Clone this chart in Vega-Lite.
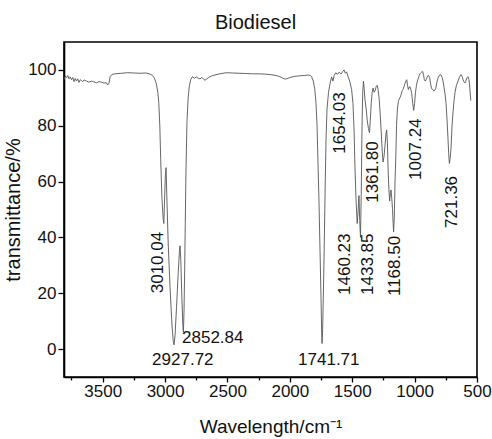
{
  "$schema": "https://vega.github.io/schema/vega-lite/v6.json",
  "width": 413,
  "height": 335,
  "autosize": {"type": "none"},
  "padding": {"left": 64, "top": 42, "right": 15, "bottom": 62},
  "background": "white",
  "config": {
    "font": "Liberation Sans",
    "view": {"stroke": "#000", "strokeWidth": 1.6},
    "axis": {
      "domainColor": "#000", "domainWidth": 1.6, "tickColor": "#000", "tickWidth": 1.3,
      "labelColor": "#111", "titleColor": "#111", "grid": false, "labelOverlap": false,
      "labelFont": "Liberation Sans", "titleFont": "Liberation Sans", "titleFontWeight": "normal"
    }
  },
  "title": {"text": "Biodiesel", "fontSize": 20, "fontWeight": "normal", "font": "Liberation Sans", "color": "#111", "offset": 9, "dx": -15},
  "resolve": {"axis": {"x": "independent"}},
  "datasets": {
    "spectrum": [
      {"w": 3810, "t": 96.5}, {"w": 3800, "t": 97.8}, {"w": 3790, "t": 97.2}, {"w": 3780, "t": 98}, {"w": 3770, "t": 96.8},
      {"w": 3760, "t": 97.5}, {"w": 3750, "t": 96.5}, {"w": 3740, "t": 97.3}, {"w": 3730, "t": 95.8}, {"w": 3720, "t": 97},
      {"w": 3710, "t": 96}, {"w": 3700, "t": 96.8}, {"w": 3690, "t": 95.5}, {"w": 3680, "t": 96.5}, {"w": 3670, "t": 96.2},
      {"w": 3660, "t": 95.8}, {"w": 3650, "t": 96.4}, {"w": 3630, "t": 96}, {"w": 3610, "t": 95.6}, {"w": 3590, "t": 96},
      {"w": 3570, "t": 95.7}, {"w": 3550, "t": 95.4}, {"w": 3530, "t": 95.8}, {"w": 3510, "t": 95.6}, {"w": 3490, "t": 95.3},
      {"w": 3470, "t": 95.4}, {"w": 3460, "t": 94.6}, {"w": 3450, "t": 95.2}, {"w": 3440, "t": 97.6}, {"w": 3425, "t": 98.4},
      {"w": 3400, "t": 98.6}, {"w": 3350, "t": 98.8}, {"w": 3300, "t": 99}, {"w": 3250, "t": 98.9}, {"w": 3200, "t": 98.8},
      {"w": 3150, "t": 98.9}, {"w": 3120, "t": 98.5}, {"w": 3100, "t": 98}, {"w": 3085, "t": 97}, {"w": 3070, "t": 95},
      {"w": 3058, "t": 92}, {"w": 3050, "t": 88}, {"w": 3042, "t": 80}, {"w": 3035, "t": 68}, {"w": 3025, "t": 54},
      {"w": 3015, "t": 46.5}, {"w": 3010, "t": 45}, {"w": 3005, "t": 52}, {"w": 2998, "t": 62}, {"w": 2992, "t": 65},
      {"w": 2986, "t": 55}, {"w": 2975, "t": 38}, {"w": 2960, "t": 22}, {"w": 2945, "t": 9}, {"w": 2935, "t": 3},
      {"w": 2928, "t": 1.5}, {"w": 2920, "t": 5}, {"w": 2908, "t": 15}, {"w": 2895, "t": 27}, {"w": 2885, "t": 35},
      {"w": 2880, "t": 37}, {"w": 2874, "t": 32}, {"w": 2865, "t": 18}, {"w": 2858, "t": 9}, {"w": 2853, "t": 6},
      {"w": 2848, "t": 14}, {"w": 2843, "t": 28}, {"w": 2838, "t": 45}, {"w": 2832, "t": 65}, {"w": 2824, "t": 82},
      {"w": 2815, "t": 90}, {"w": 2806, "t": 94}, {"w": 2795, "t": 96.5}, {"w": 2780, "t": 97.6}, {"w": 2765, "t": 97},
      {"w": 2750, "t": 97.5}, {"w": 2735, "t": 97}, {"w": 2720, "t": 96.8}, {"w": 2705, "t": 97.3}, {"w": 2690, "t": 96.6},
      {"w": 2680, "t": 96.3}, {"w": 2665, "t": 96.8}, {"w": 2650, "t": 97.3}, {"w": 2630, "t": 97.8}, {"w": 2600, "t": 98.2},
      {"w": 2560, "t": 98.6}, {"w": 2510, "t": 99}, {"w": 2460, "t": 98.9}, {"w": 2400, "t": 98.8}, {"w": 2350, "t": 98.7},
      {"w": 2300, "t": 98.6}, {"w": 2250, "t": 98.6}, {"w": 2200, "t": 98.5}, {"w": 2150, "t": 98.3}, {"w": 2110, "t": 98},
      {"w": 2080, "t": 97.6}, {"w": 2055, "t": 97}, {"w": 2035, "t": 96.7}, {"w": 2015, "t": 97}, {"w": 1990, "t": 97.4},
      {"w": 1960, "t": 97.7}, {"w": 1920, "t": 97.9}, {"w": 1880, "t": 98}, {"w": 1850, "t": 98.2}, {"w": 1835, "t": 98},
      {"w": 1825, "t": 97.5}, {"w": 1812, "t": 96}, {"w": 1800, "t": 93}, {"w": 1790, "t": 88}, {"w": 1782, "t": 80},
      {"w": 1775, "t": 68}, {"w": 1766, "t": 52}, {"w": 1758, "t": 35}, {"w": 1750, "t": 18}, {"w": 1745, "t": 6},
      {"w": 1741.7, "t": 2}, {"w": 1737, "t": 7}, {"w": 1732, "t": 18}, {"w": 1725, "t": 35}, {"w": 1718, "t": 55},
      {"w": 1710, "t": 75}, {"w": 1702, "t": 86}, {"w": 1690, "t": 92}, {"w": 1678, "t": 95}, {"w": 1665, "t": 97.5},
      {"w": 1654, "t": 96}, {"w": 1645, "t": 98}, {"w": 1632, "t": 99}, {"w": 1620, "t": 98.4}, {"w": 1605, "t": 99.2},
      {"w": 1590, "t": 98.5}, {"w": 1575, "t": 99.5}, {"w": 1565, "t": 100}, {"w": 1555, "t": 98.8}, {"w": 1545, "t": 99.3},
      {"w": 1535, "t": 97.8}, {"w": 1520, "t": 96}, {"w": 1505, "t": 93}, {"w": 1494, "t": 88}, {"w": 1485, "t": 78},
      {"w": 1478, "t": 65}, {"w": 1470, "t": 54}, {"w": 1460.2, "t": 45}, {"w": 1452, "t": 50}, {"w": 1446, "t": 55},
      {"w": 1440, "t": 46}, {"w": 1433.9, "t": 40}, {"w": 1428, "t": 55}, {"w": 1422, "t": 78}, {"w": 1416, "t": 92},
      {"w": 1410, "t": 96}, {"w": 1404, "t": 93}, {"w": 1397, "t": 89}, {"w": 1388, "t": 86}, {"w": 1380, "t": 82},
      {"w": 1370, "t": 79}, {"w": 1361.8, "t": 77.5}, {"w": 1355, "t": 82}, {"w": 1348, "t": 88}, {"w": 1340, "t": 92},
      {"w": 1333, "t": 93.5}, {"w": 1325, "t": 92}, {"w": 1317, "t": 92.5}, {"w": 1308, "t": 94}, {"w": 1300, "t": 94.5},
      {"w": 1293, "t": 93}, {"w": 1285, "t": 90}, {"w": 1277, "t": 85}, {"w": 1269, "t": 79}, {"w": 1261, "t": 72},
      {"w": 1253, "t": 67}, {"w": 1245, "t": 69}, {"w": 1237, "t": 73}, {"w": 1230, "t": 77}, {"w": 1224, "t": 78.5},
      {"w": 1218, "t": 74}, {"w": 1213, "t": 65}, {"w": 1206, "t": 57}, {"w": 1200, "t": 53}, {"w": 1194, "t": 56},
      {"w": 1189, "t": 57}, {"w": 1183, "t": 54}, {"w": 1177, "t": 50}, {"w": 1172, "t": 45}, {"w": 1168.5, "t": 42},
      {"w": 1163, "t": 47}, {"w": 1157, "t": 60}, {"w": 1150, "t": 70}, {"w": 1145, "t": 80}, {"w": 1138, "t": 86},
      {"w": 1129, "t": 89}, {"w": 1118, "t": 90}, {"w": 1109, "t": 91}, {"w": 1100, "t": 92.5}, {"w": 1093, "t": 93},
      {"w": 1085, "t": 94}, {"w": 1077, "t": 95.2}, {"w": 1070, "t": 96}, {"w": 1063, "t": 96.5}, {"w": 1057, "t": 94.5},
      {"w": 1050, "t": 93}, {"w": 1043, "t": 93.8}, {"w": 1037, "t": 94}, {"w": 1030, "t": 93}, {"w": 1023, "t": 91.5},
      {"w": 1015, "t": 88}, {"w": 1007.2, "t": 85.5}, {"w": 1000, "t": 88}, {"w": 993, "t": 92}, {"w": 985, "t": 94.5},
      {"w": 978, "t": 96}, {"w": 970, "t": 97}, {"w": 963, "t": 98}, {"w": 957, "t": 98.6}, {"w": 950, "t": 99},
      {"w": 942, "t": 99.3}, {"w": 935, "t": 99.4}, {"w": 928, "t": 98}, {"w": 922, "t": 96.5}, {"w": 915, "t": 96},
      {"w": 908, "t": 96.5}, {"w": 903, "t": 97}, {"w": 896, "t": 97.8}, {"w": 888, "t": 98}, {"w": 880, "t": 97.3},
      {"w": 872, "t": 95}, {"w": 865, "t": 93.5}, {"w": 858, "t": 93}, {"w": 850, "t": 92.8}, {"w": 845, "t": 92.4},
      {"w": 838, "t": 92.8}, {"w": 830, "t": 93.5}, {"w": 822, "t": 95.5}, {"w": 813, "t": 97}, {"w": 805, "t": 97.8},
      {"w": 795, "t": 98.3}, {"w": 788, "t": 98.2}, {"w": 780, "t": 97.3}, {"w": 772, "t": 96}, {"w": 765, "t": 94},
      {"w": 755, "t": 91}, {"w": 748, "t": 88}, {"w": 740, "t": 82}, {"w": 732, "t": 75}, {"w": 727, "t": 70},
      {"w": 721.4, "t": 66.5}, {"w": 716, "t": 68}, {"w": 708, "t": 72}, {"w": 700, "t": 80}, {"w": 692, "t": 85},
      {"w": 684, "t": 89}, {"w": 676, "t": 92}, {"w": 665, "t": 94.5}, {"w": 652, "t": 96}, {"w": 640, "t": 97.5},
      {"w": 628, "t": 98.3}, {"w": 620, "t": 97.8}, {"w": 612, "t": 96.5}, {"w": 604, "t": 95.6}, {"w": 596, "t": 95.4},
      {"w": 588, "t": 96.2}, {"w": 580, "t": 97.2}, {"w": 572, "t": 97.6}, {"w": 565, "t": 96.6}, {"w": 560, "t": 95},
      {"w": 555, "t": 92}, {"w": 550, "t": 89}
    ],
    "vlabels": [
      {"label": "3010.04", "w": 3056, "t": 20},
      {"label": "1654.03", "w": 1598, "t": 70},
      {"label": "1460.23", "w": 1558, "t": 19.4},
      {"label": "1433.85", "w": 1371, "t": 19.4},
      {"label": "1361.80", "w": 1333, "t": 52.4},
      {"label": "1168.50", "w": 1157, "t": 19},
      {"label": "1007.24", "w": 989, "t": 60.6},
      {"label": "721.36", "w": 704, "t": 43.4}
    ],
    "hlabels": [
      {"label": "2927.72", "w": 3104, "t": -3.8},
      {"label": "2852.84", "w": 2864, "t": 3.9},
      {"label": "1741.71", "w": 1934, "t": -3.8}
    ]
  },
  "layer": [
    {
      "data": {"name": "spectrum"},
      "mark": {"type": "line", "color": "#555", "strokeWidth": 0.9, "clip": true},
      "encoding": {
        "x": {
          "field": "w", "type": "quantitative",
          "scale": {"domain": [3810, 500], "nice": false, "zero": false},
          "axis": {
            "title": "Wavelength/cm⁻¹", "titleFontSize": 19, "titlePadding": 18,
            "values": [3500, 3000, 2500, 2000, 1500, 1000, 500],
            "format": "d", "labelFlush": false,
            "labelFontSize": 17, "labelPadding": 1, "tickSize": 5
          }
        },
        "y": {
          "field": "t", "type": "quantitative",
          "scale": {"domain": [-10, 110], "nice": false, "zero": false},
          "axis": {
            "title": "transmittance/%", "titleFontSize": 20, "titlePadding": 4,
            "values": [0, 10, 20, 30, 40, 50, 60, 70, 80, 90, 100],
            "labelExpr": "datum.value % 20 == 0 ? datum.label : ''",
            "labelFontSize": 17, "labelPadding": 2,
            "tickSize": {"condition": {"test": "datum.value % 20 == 0", "value": 6}, "value": 3}
          }
        }
      }
    },
    {
      "data": {"name": "vlabels"},
      "mark": {"type": "text", "angle": 270, "align": "left", "baseline": "middle", "fontSize": 17, "font": "Liberation Sans", "color": "#111"},
      "encoding": {
        "x": {
          "field": "w", "type": "quantitative",
          "axis": {
            "orient": "bottom", "title": null, "labels": false, "domain": false,
            "values": [3750, 3250, 2750, 2250, 1750, 1250, 750], "tickSize": 3
          }
        },
        "y": {"field": "t", "type": "quantitative"},
        "text": {"field": "label"}
      }
    },
    {
      "data": {"name": "hlabels"},
      "mark": {"type": "text", "align": "left", "baseline": "middle", "fontSize": 17, "font": "Liberation Sans", "color": "#111"},
      "encoding": {
        "x": {"field": "w", "type": "quantitative", "axis": null},
        "y": {"field": "t", "type": "quantitative"},
        "text": {"field": "label"}
      }
    }
  ]
}
